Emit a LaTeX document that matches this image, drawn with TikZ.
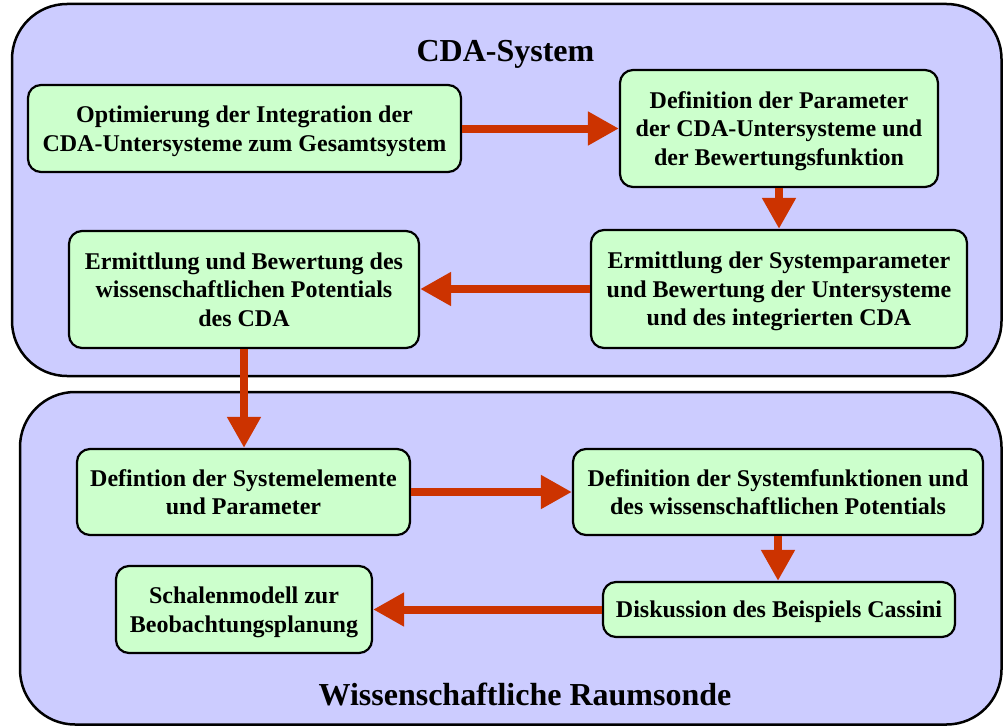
\documentclass[tikz,border=0pt]{standalone}
\usepackage{fontspec}
\setmainfont{Liberation Serif}
\usetikzlibrary{arrows.meta}

\definecolor{panelfill}{RGB}{204,204,255}
\definecolor{stepfill}{RGB}{204,255,204}
\definecolor{flowred}{RGB}{204,51,0}

\tikzset{
  panel/.style={draw=black, line width=2.5pt, fill=panelfill, rounded corners=55pt},
  stepbox/.style={draw=black, line width=2.2pt, fill=stepfill, rounded corners=13pt,
    align=center, inner sep=0pt, text depth=0pt,
    font=\fontsize{24}{28.5}\selectfont\bfseries},
  paneltitle/.style={anchor=base, inner sep=0pt,
    font=\fontsize{32}{36}\selectfont\bfseries},
  flow/.style={draw=flowred, line width=8pt,
    -{Triangle[length=31pt,width=32pt]}}
}

\begin{document}
\begin{tikzpicture}[x=1pt,y=-1pt]
\useasboundingbox (0,0) rectangle (1003,725);
\clip (0,0) rectangle (1003,725);

% two panels
\path[panel] (12,4) rectangle (1001.5,376);
\path[panel] (20,392) rectangle (1001.5,724.5);

\node[paneltitle] (t1) at (505.5,62) {CDA-System};
\node[paneltitle] (t2) at (525,705) {Wissenschaftliche Raumsonde};

% upper panel steps
\node[stepbox, minimum width=433pt, minimum height=87pt] (b1) at (244.5,128.5)
  {Optimierung der Integration der\\CDA-Untersysteme zum Gesamtsystem};
\node[stepbox, minimum width=318pt, minimum height=117pt] (b2) at (779,128.5)
  {Definition der Parameter\\der CDA-Untersysteme und\\der Bewertungsfunktion};
\node[stepbox, minimum width=376pt, minimum height=118pt] (b3) at (779,289)
  {Ermittlung der Systemparameter\\und Bewertung der Untersysteme\\und des integrierten CDA};
\node[stepbox, minimum width=350pt, minimum height=117pt] (b4) at (244,289.5)
  {Ermittlung und Bewertung des\\wissenschaftlichen Potentials\\des CDA};

% lower panel steps
\node[stepbox, minimum width=333pt, minimum height=86pt] (b5) at (243.5,492)
  {Defintion der Systemelemente\\und Parameter};
\node[stepbox, minimum width=410pt, minimum height=86pt] (b6) at (778,492)
  {Definition der Systemfunktionen und\\des wissenschaftlichen Potentials};
\node[stepbox, minimum width=352pt, minimum height=55pt] (b7) at (779,609.5)
  {Diskussion des Beispiels Cassini};
\node[stepbox, minimum width=256pt, minimum height=87pt] (b8) at (244,609.5)
  {Schalenmodell zur\\Beobachtungsplanung};

% flow arrows
\draw[flow] (b1.east) -- (b2.west);
\draw[flow] (b2.south) -- (b2.south |- b3.north);
\draw[flow] (b3.west) -- (b3.west -| b4.east);
\draw[flow] (b4.south) -- (b4.south |- b5.north);
\draw[flow] (b5.east) -- (b6.west);
\draw[flow] (b6.south) -- (b6.south |- b7.north);
\draw[flow] (b7.west) -- (b8.east);
\end{tikzpicture}
\end{document}
